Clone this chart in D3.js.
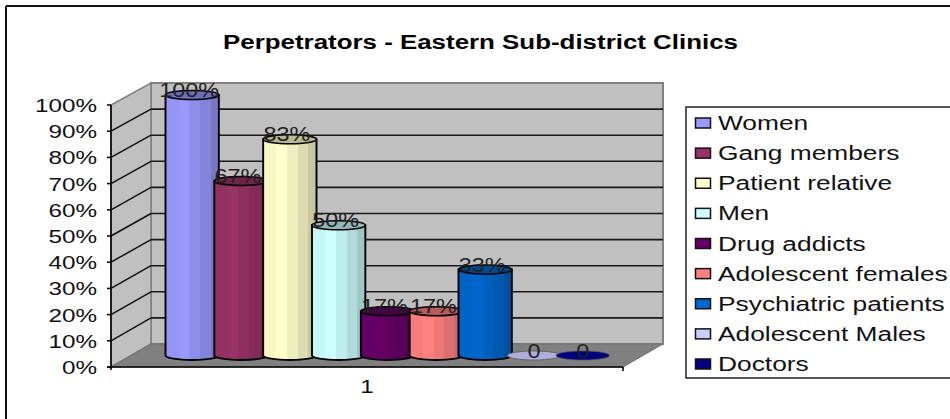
<!DOCTYPE html>
<html><head><meta charset="utf-8">
<script src="https://d3js.org/d3.v7.min.js"></script>
<style>html,body{margin:0;padding:0;background:#fff}svg{display:block}text{font-family:"Liberation Sans",Arial,sans-serif}</style>
</head><body><svg id="c" width="950" height="419"></svg>
<script>
const chartTitle = "Perpetrators - Eastern Sub-district Clinics";
const categoryLabel = "1";
const seriesNames = ["Women","Gang members","Patient relative","Men","Drug addicts","Adolescent females","Psychiatric patients","Adolescent Males","Doctors"];
const seriesValues = [1.00,0.67,0.83,0.50,0.17,0.17,0.33,0,0];
const valueLabels = ["100%","67%","83%","50%","17%","17%","33%","0","0"];
const seriesColors = ["#9999FF","#993366","#FFFFCC","#CCFFFF","#660066","#FF8080","#0066CC","#CCCCFF","#000080"];
const axisTicks = [0,0.1,0.2,0.3,0.4,0.5,0.6,0.7,0.8,0.9,1];

const svg = d3.select("#c");
const defs = svg.append("defs");
const front = {x0:111,x1:623,y0:367,y1:105};
const back = {x0:151,x1:663,y0:344,y1:83};
const yFront = d3.scaleLinear().domain([0,1]).range([front.y0,front.y1]);
const yBack = d3.scaleLinear().domain([0,1]).range([back.y0,back.y1]);
const yBar = d3.scaleLinear().domain([0,1]).range([355.5,95]);
const x = d3.scaleBand().domain(seriesNames).range([165.5,605]);
const barW = x.bandwidth()+4.5, ry = 4.5;

function label(g,t,px,py,size,len,anchor,opts={}){
  const off = anchor==="end"?-len:anchor==="middle"?-len/2:0;
  return g.append("text").attr("x",px+off).attr("y",py).attr("font-size",size)
    .attr("textLength",len).attr("lengthAdjust","spacingAndGlyphs")
    .attr("fill",opts.fill||"#111").attr("font-weight",opts.weight||"normal").text(t);
}
function measure(t,size,weight){
  const n = svg.append("text").attr("font-size",size).attr("font-weight",weight||"normal").text(t);
  const w = n.node().getComputedTextLength(); n.remove(); return w;
}

// frame: top and left rules only
svg.append("line").attr("x1",6).attr("x2",950).attr("y1",6).attr("y2",6).attr("stroke","#111").attr("stroke-width",2);
svg.append("line").attr("x1",6).attr("x2",6).attr("y1",6).attr("y2",419).attr("stroke","#111").attr("stroke-width",2);

label(svg,chartTitle,223,49,19.5,515,"start",{weight:"bold",fill:"#000"});

// walls
const pts = a=>a.map(p=>p.join(",")).join(" ");
svg.append("polygon").attr("points",pts([[back.x0,back.y1],[back.x1,back.y1],[back.x1,back.y0],[back.x0,back.y0]]))
  .attr("fill","#C0C0C0").attr("stroke","#808080").attr("stroke-width",2);
svg.append("polygon").attr("points",pts([[front.x0,front.y1],[back.x0,back.y1],[back.x0,back.y0],[front.x0,front.y0]]))
  .attr("fill","#C0C0C0").attr("stroke","#808080").attr("stroke-width",1.5);
svg.append("polygon").attr("points",pts([[front.x0,front.y0],[back.x0,back.y0],[back.x1,back.y0],[front.x1,front.y0]]))
  .attr("fill","#808080").attr("stroke","#707070").attr("stroke-width",1);

// gridlines
const grid = axisTicks.slice(1,-1);
svg.append("g").selectAll("line").data(grid).join("line")
  .attr("x1",back.x0).attr("x2",back.x1).attr("y1",d=>yBack(d)).attr("y2",d=>yBack(d))
  .attr("stroke","#1a1a1a").attr("stroke-width",1.6);
svg.append("g").selectAll("line").data(grid).join("line")
  .attr("x1",front.x0).attr("x2",back.x0).attr("y1",d=>yFront(d)).attr("y2",d=>yBack(d))
  .attr("stroke","#111").attr("stroke-width",1.5);

// axes
const axisG = svg.append("g");
axisG.append("line").attr("x1",front.x0).attr("x2",front.x0).attr("y1",front.y1).attr("y2",front.y0+3).attr("stroke","#000").attr("stroke-width",1.6);
axisG.append("line").attr("x1",front.x0-4).attr("x2",front.x1).attr("y1",front.y0).attr("y2",front.y0).attr("stroke","#000").attr("stroke-width",1.6);
axisG.append("line").attr("x1",front.x1).attr("x2",front.x1).attr("y1",front.y0).attr("y2",front.y0+4).attr("stroke","#000").attr("stroke-width",1.6);
axisG.selectAll("line.t").data(axisTicks).join("line")
  .attr("x1",front.x0-4).attr("x2",front.x0).attr("y1",d=>yFront(d)).attr("y2",d=>yFront(d))
  .attr("stroke","#000").attr("stroke-width",1.5);
axisTicks.forEach(d=>{
  const t = d3.format(".0%")(d);
  label(axisG,t,97,yFront(d)+7,19,measure(t,19)*1.276,"end");
});
label(svg,categoryLabel,367,393,19,measure(categoryLabel,19)*1.276,"middle");

// gradients
seriesColors.forEach((c,i)=>{
  const g = defs.append("linearGradient").attr("id","g"+i).attr("x1",0).attr("x2",1).attr("y1",0).attr("y2",0);
  const ramp = [[0,0.97],[0.25,1],[0.45,0.93],[0.65,0.86],[0.85,0.78],[1,0.68]];
  const base = d3.rgb(c);
  let prev=null;
  ramp.forEach(([o,f])=>{
    const col = d3.rgb(base.r*f,base.g*f,base.b*f).formatHex();
    if(prev) g.append("stop").attr("offset",o).attr("stop-color",prev);
    g.append("stop").attr("offset",o).attr("stop-color",col);
    prev=col;
  });
});

// cylinders
const barsG = svg.append("g");
seriesNames.forEach((name,i)=>{
  const v = seriesValues[i], left = x(name), cx = left+barW/2, rx = barW/2;
  const base = yBar(0), top = yBar(v);
  const g = barsG.append("g");
  if(v>0){
    g.append("path")
      .attr("d",`M${left},${top}L${left},${base}A${rx},${ry} 0 0 0 ${left+barW},${base}L${left+barW},${top}Z`)
      .attr("fill",`url(#g${i})`).attr("stroke","#000").attr("stroke-width",1.9);
  }
  const cap = d3.rgb(seriesColors[i]);
  g.append("ellipse").attr("cx",cx).attr("cy",top).attr("rx",rx).attr("ry",ry)
    .attr("fill",v>0?d3.rgb(cap.r*0.72,cap.g*0.72,cap.b*0.72).formatHex():(i===7?"#AEAEDC":"#000080"))
    .attr("stroke",v>0?"#000":"#555").attr("stroke-width",v>0?1.6:0.8);
});
// value labels
seriesNames.forEach((name,i)=>{
  const t = valueLabels[i];
  const cx = x(name)+barW/2-(t.endsWith("%")?3:0), top = yBar(seriesValues[i]);
  label(barsG,t,cx,top+2,19.5,measure(t,19.5)*1.2,"middle",{fill:"#222"});
});

// legend (open on the right, as in the reference)
const legend = svg.append("g");
legend.append("path").attr("d","M950,107L686,107L686,378L950,378").attr("fill","#fff").attr("stroke","#222").attr("stroke-width",1.5);
const ly = d3.scalePoint().domain(seriesNames).range([123,364]);
seriesNames.forEach((name,i)=>{
  const yy = ly(name);
  legend.append("rect").attr("x",695.5).attr("y",yy-5).attr("width",15).attr("height",10)
    .attr("fill",seriesColors[i]).attr("stroke","#111").attr("stroke-width",1.5);
  label(legend,name,718,yy+7,19.5,measure(name,19.5)*1.35,"start");
});
</script></body></html>
